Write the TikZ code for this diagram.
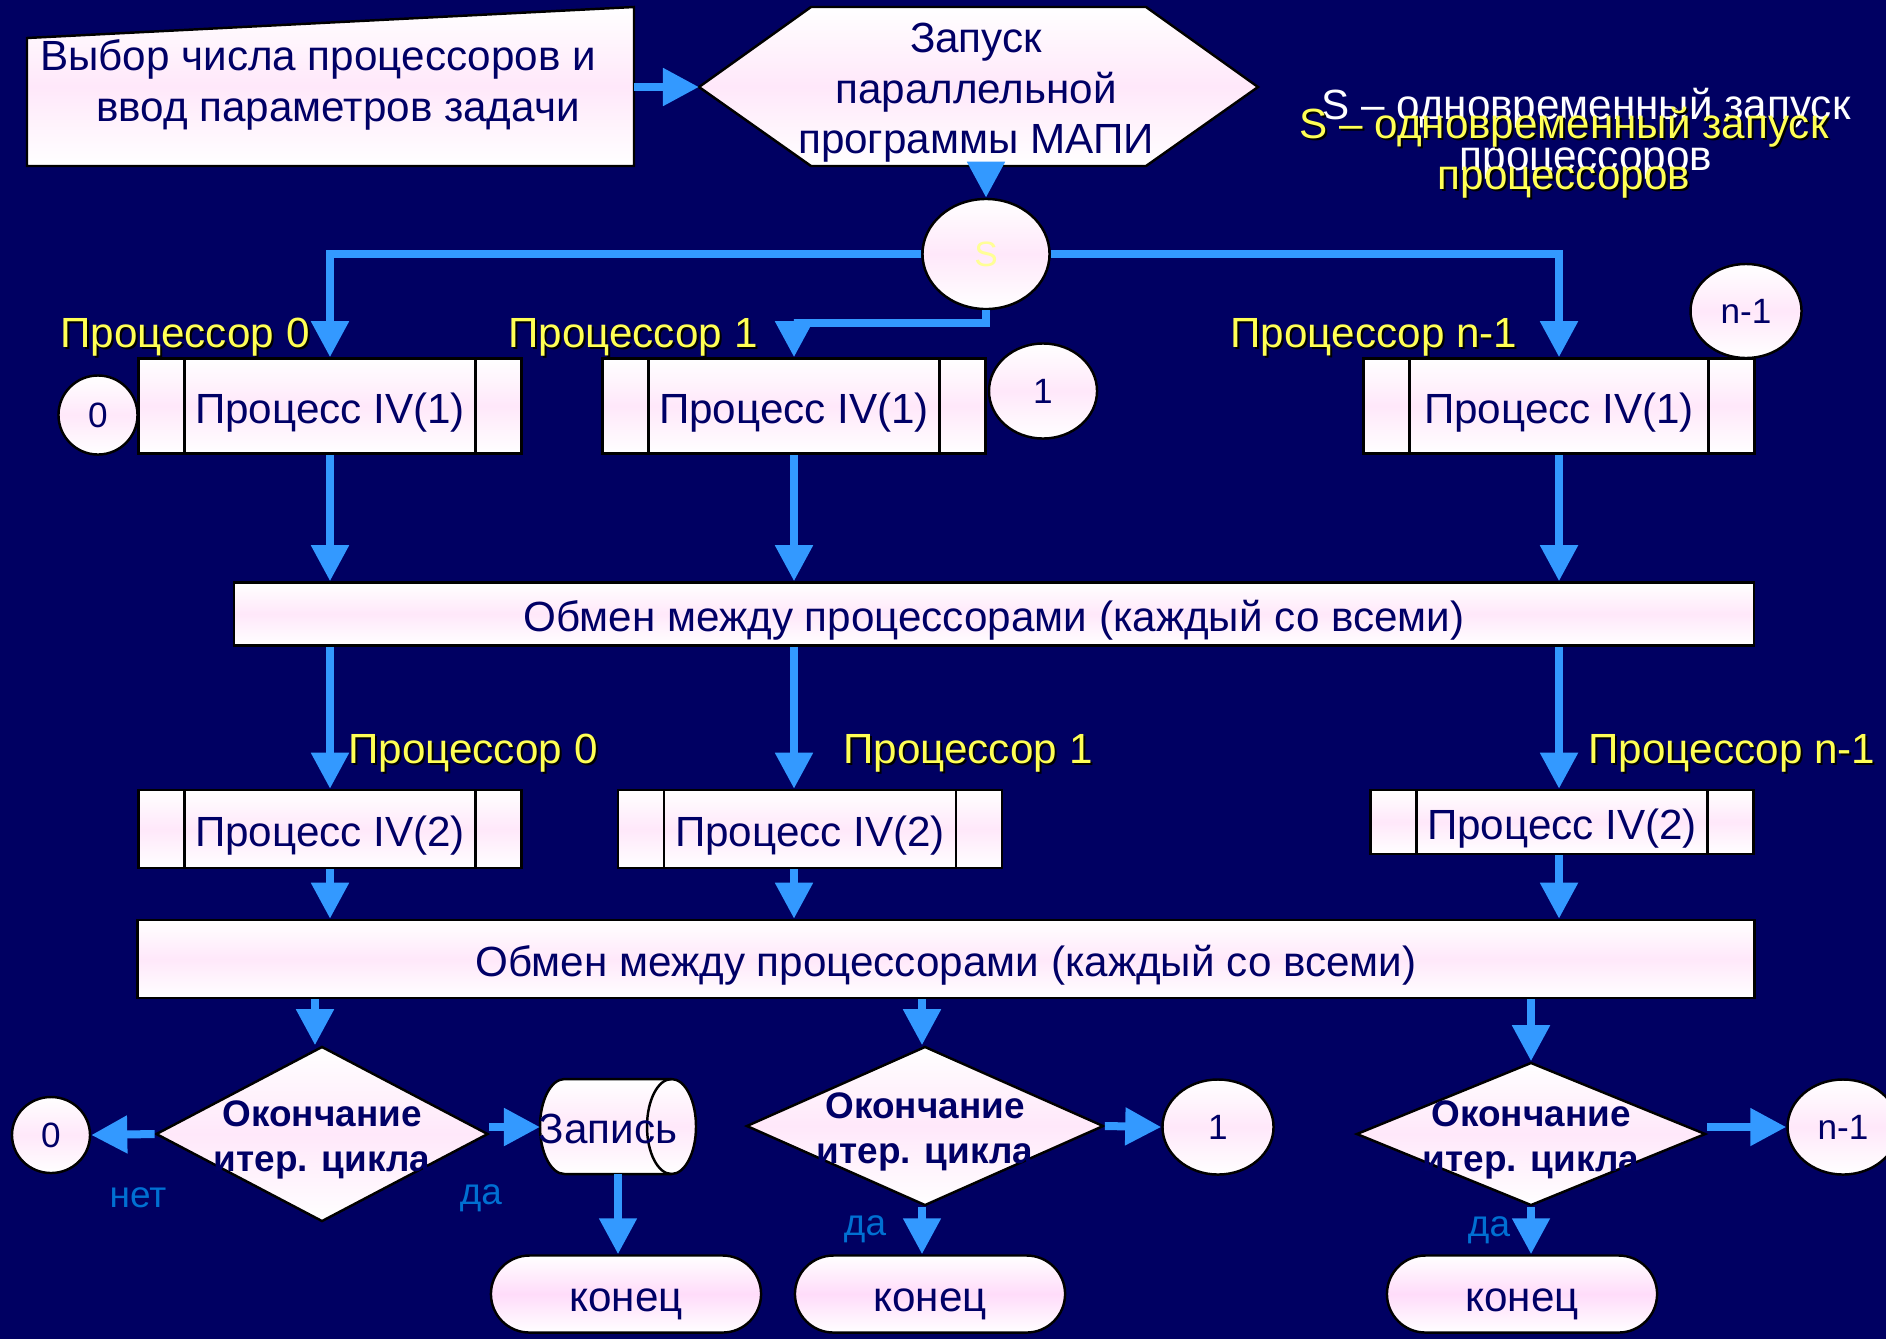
\documentclass[tikz,border=0pt]{standalone}
\usepackage{fontspec}
\setmainfont{Liberation Sans}
\usetikzlibrary{shapes,arrows.meta}

\definecolor{bgnavy}{RGB}{0,0,98}
\definecolor{flowblue}{RGB}{51,153,255}
\definecolor{boxpink}{RGB}{255,232,250}
\definecolor{endpink}{RGB}{255,220,250}
\definecolor{navytext}{RGB}{0,0,102}
\definecolor{lblyellow}{RGB}{255,255,85}
\definecolor{syellow}{RGB}{255,255,150}
\definecolor{ynblue}{RGB}{0,112,210}

\newcommand{\boxfont}{\fontsize{12}{14.4}\selectfont}
\newcommand{\decfont}{\fontsize{10.5}{12.8}\selectfont\bfseries}
\newcommand{\smallfont}{\fontsize{10}{12}\selectfont}

\tikzset{
  boxshade/.style={draw=black, line width=0.7pt, top color=white, bottom color=white, middle color=boxpink},
  txt/.style={inner sep=0, font=\boxfont, text=navytext},
  oneline/.style={txt, text height=9.7pt, text depth=0pt},
  procbox/.style={rectangle, boxshade, oneline, minimum width=3.83cm,
    path picture={\draw[line width=0.7pt]
      ([xshift=0.46cm]path picture bounding box.north west) -- ([xshift=0.46cm]path picture bounding box.south west)
      ([xshift=-0.46cm]path picture bounding box.north east) -- ([xshift=-0.46cm]path picture bounding box.south east);}},
  barnode/.style={rectangle, boxshade, oneline},
  ovalnode/.style={ellipse, boxshade, inner sep=0, font=\smallfont, text=navytext},
  decision/.style={diamond, boxshade, inner sep=0},
  decl/.style={font=\decfont, text=navytext, align=center, inner sep=0, yshift=-0.06cm},
  endnode/.style={rounded rectangle, boxshade, oneline, minimum width=2.70cm, minimum height=0.77cm, middle color=endpink},
  plabel/.style={inner sep=0, font=\boxfont, text=lblyellow},
  yn/.style={inner sep=0, font=\fontsize{10.5}{12}\selectfont, text=ynblue},
  flow/.style={draw=flowblue, line width=0.08cm, -{Triangle[length=0.36cm,width=0.36cm]}}
}

% yellow label with dark shadow
\newcommand{\proclabel}[3]{%
  \node[plabel, text=black] (#1s) at ([shift={(2,2)}]#2) {#3};
  \node[plabel] (#1) at (#2) {#3};}

\begin{document}
\begin{tikzpicture}[x=0.01cm, y=-0.01cm]
\useasboundingbox (0,0) rectangle (1886,1339);
\fill[bgnavy] (0,0) rectangle (1886,1339);

% input and launch
\path[boxshade] (27,38) -- (634,7) -- (634,166) -- (27,166) -- cycle;
\node[txt, align=left] (input) at (318,85) {Выбор числа процессоров и\\\hspace*{0.56cm}ввод параметров задачи};
\coordinate (inputE) at (634,87);
\path[boxshade] (699,87) -- (811,7) -- (1146,7) -- (1258,87) -- (1146,166) -- (811,166) -- cycle;
\node[txt, align=center] (launch) at (976,93) {Запуск\\параллельной\\программы МАПИ};
\coordinate (launchW) at (699,87);
\coordinate (launchS) at (986,166);

% legend
\node[txt, text=white, align=center] (legw) at (1586,134) {S -- одновременный запуск\\процессоров};
\node[txt, text=black, align=center] (legs) at (1566,155) {S -- одновременный запуск\\процессоров};
\node[txt, text=lblyellow, align=center] (leg) at (1564,153) {S -- одновременный запуск\\процессоров};

\node[ovalnode, minimum width=1.27cm, minimum height=1.10cm, text=syellow] (sync) at (986,254) {S};

% first stage
\proclabel{l0a}{185,337}{Процессор 0}
\proclabel{l1a}{633,337}{Процессор 1}
\proclabel{l2a}{1374,337}{Процессор n-1}
\node[procbox, minimum height=0.95cm] (p0a) at (330,406) {Процесс IV(1)};
\node[procbox, minimum height=0.95cm] (p1a) at (794,406) {Процесс IV(1)};
\node[procbox, minimum height=0.95cm, minimum width=3.91cm] (p2a) at (1559,406) {Процесс IV(1)};
\node[ovalnode, minimum width=0.79cm, minimum height=0.79cm] (c0a) at (98,415) {0};
\node[ovalnode, minimum width=1.08cm, minimum height=0.95cm] (c1a) at (1043,391) {1};
\node[ovalnode, minimum width=1.11cm, minimum height=0.94cm] (c2a) at (1746,311) {n-1};

\node[barnode, minimum width=15.19cm, minimum height=0.63cm] (bar1) at (994,614) {Обмен между процессорами (каждый со всеми)};

% second stage
\proclabel{l0b}{473,753}{Процессор 0}
\proclabel{l1b}{968,753}{Процессор 1}
\proclabel{l2b}{1732,753}{Процессор n-1}
\node[procbox, minimum height=0.78cm] (p0b) at (330,829) {Процесс IV(2)};
\node[procbox, minimum height=0.78cm, minimum width=3.84cm] (p1b) at (810,829) {Процесс IV(2)};
\node[procbox, minimum height=0.64cm] (p2b) at (1562,822) {Процесс IV(2)};

\node[barnode, minimum width=16.16cm, minimum height=0.78cm] (bar2) at (946,959) {Обмен между процессорами (каждый со всеми)};

% end of iteration
\node[decision, minimum width=3.32cm, minimum height=1.75cm, label={[decl]center:Окончание\\итер. цикла}] (dec0) at (322,1134) {};
\node[decision, minimum width=3.57cm, minimum height=1.59cm, label={[decl]center:Окончание\\итер. цикла}] (dec1) at (925,1126) {};
\node[decision, minimum width=3.49cm, minimum height=1.43cm, label={[decl]center:Окончание\\итер. цикла}] (dec2) at (1531,1134) {};
\node[ovalnode, minimum width=0.78cm, minimum height=0.76cm] (c0b) at (51,1135) {0};
\node[ovalnode, minimum width=1.11cm, minimum height=0.95cm] (c1b) at (1218,1127) {1};
\node[ovalnode, minimum width=1.11cm, minimum height=0.95cm] (c2b) at (1843,1127) {n-1};

% storage drum
\path[boxshade] (564.5,1079) -- (671.5,1079)
  arc[start angle=-90, end angle=90, x radius=24.5, y radius=47.5] -- (564.5,1174)
  arc[start angle=90, end angle=270, x radius=24.5, y radius=47.5] -- cycle;
\draw[line width=0.7pt] (671.5,1079) arc[start angle=270, end angle=90, x radius=24.5, y radius=47.5];
\node[txt] (rec) at (608,1129) {Запись};
\coordinate (recW) at (540,1127);
\coordinate (recS) at (618,1174);

\node[endnode] (end0) at (626,1294) {конец};
\node[endnode] (end1) at (930,1294) {конец};
\node[endnode] (end2) at (1522,1294) {конец};
\node[yn] (no0) at (138,1198) {нет};
\node[yn] (yes0) at (481,1198) {да};
\node[yn] (yes1) at (865,1229) {да};
\node[yn] (yes2) at (1489,1230) {да};

% connectors
\draw[flow] (inputE) -- (launchW);
\draw[flow] (launchS) -- (sync.north);
\draw[flow] (sync.west) -| (p0a.north);
\draw[flow] (sync.south) -- ++(0,13) -| (p1a.north);
\draw[flow] (sync.east) -| (p2a.north);
\foreach \a in {p0a,p1a,p2a}
  \draw[flow] (\a.south) -- (\a.south |- bar1.north);
\foreach \a/\b in {p0a/p0b,p1a/p1b,p2a/p2b}
  \draw[flow] (\a.south |- bar1.south) -- (\a.south |- \b.north);
\foreach \a/\b in {p0a/p0b,p1a/p1b,p2a/p2b}
  \draw[flow] (\a.south |- \b.south) -- (\a.south |- bar2.north);
\draw[flow] ([xshift=-0.07cm]dec0.north |- bar2.south) -- ([xshift=-0.07cm]dec0.north);
\draw[flow] ([xshift=-0.03cm]dec1.north |- bar2.south) -- ([xshift=-0.03cm]dec1.north);
\draw[flow] (dec2.north |- bar2.south) -- (dec2.north);
\draw[flow] (dec0.west) -- (c0b.east);
\draw[flow] (dec0.east |- recW) -- (recW);
\draw[flow] (recS) -- (recS |- end0.north);
\draw[flow] (dec1.east) -- (c1b.west);
\draw[flow] ([xshift=-0.03cm]dec1.south) -- ([xshift=-0.03cm]dec1.south |- end1.north);
\draw[flow] (dec2.east |- c2b.west) -- (c2b.west);
\draw[flow] (dec2.south) -- (dec2.south |- end2.north);
\end{tikzpicture}
\end{document}
